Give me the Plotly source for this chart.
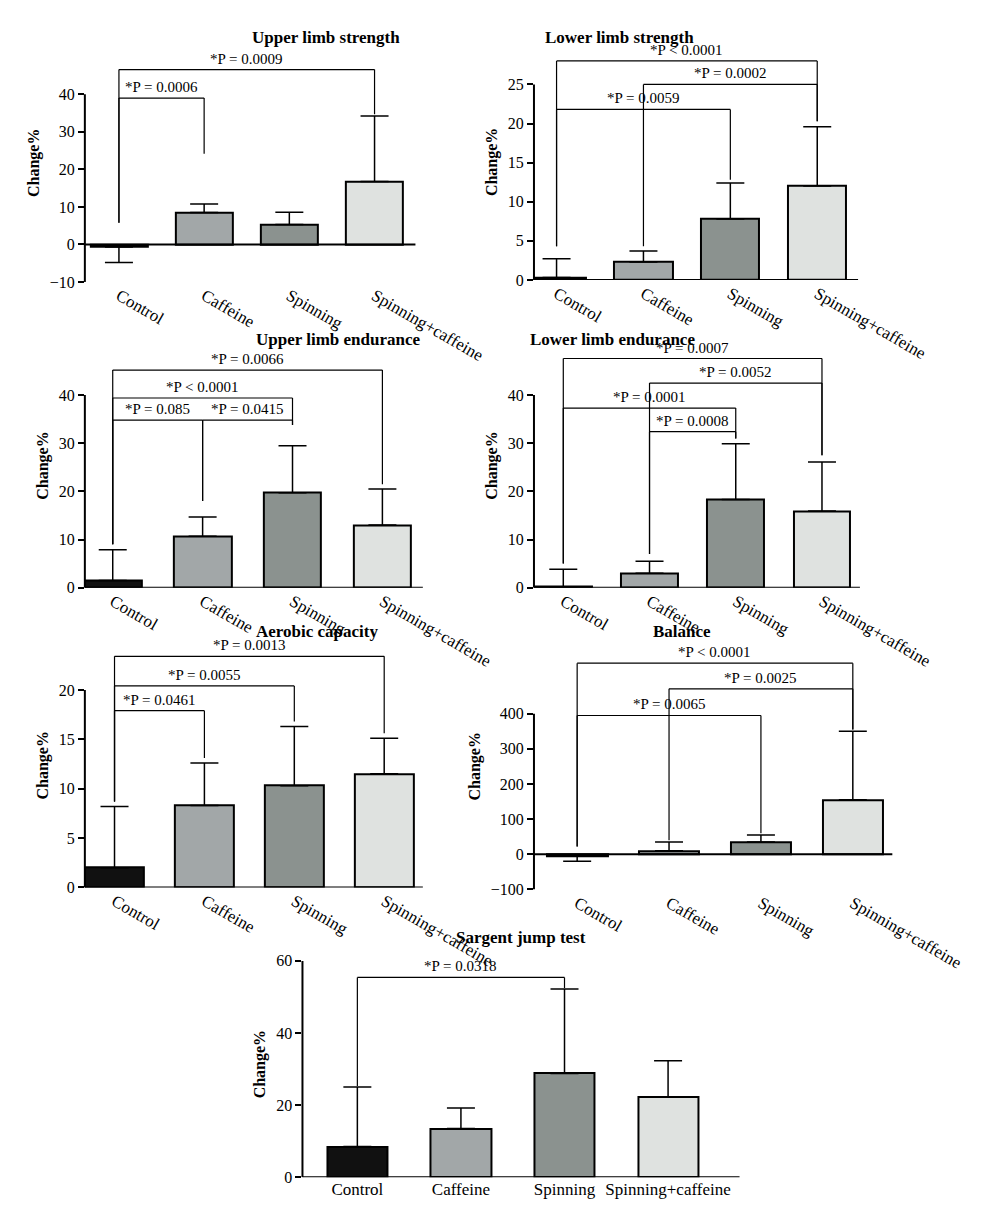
import plotly.graph_objects as go

categories = ["Control", "Caffeine", "Spinning", "Spinning+caffeine"]
colors = ["#111111", "#a2a7a8", "#8b928f", "#dfe2e0"]

titles = ["Upper limb strength", "Lower limb strength", "Upper limb endurance",
          "Lower limb endurance", "Aerobic capacity", "Balance", "Sargent jump test"]

ul_strength = [-0.7, 8.5, 5.3, 16.8]
ul_strength_err = [4.1, 2.3, 3.3, 17.4]
ll_strength = [0.3, 2.3, 7.8, 12.0]
ll_strength_err = [2.4, 1.4, 4.6, 7.6]
ul_endurance = [1.5, 10.7, 19.7, 13.0]
ul_endurance_err = [6.4, 4.0, 9.8, 7.5]
ll_endurance = [0.2, 3.0, 18.3, 15.9]
ll_endurance_err = [3.6, 2.5, 11.6, 10.2]
aerobic = [2.0, 8.3, 10.3, 11.5]
aerobic_err = [6.2, 4.3, 6.0, 3.6]
balance = [-5, 10, 35, 155]
balance_err = [15, 25, 20, 195]
sargent = [8.5, 13.5, 28.8, 22.3]
sargent_err = [16.5, 5.7, 23.4, 10.0]

values = [ul_strength, ll_strength, ul_endurance, ll_endurance, aerobic, balance, sargent]
errors = [ul_strength_err, ll_strength_err, ul_endurance_err, ll_endurance_err,
          aerobic_err, balance_err, sargent_err]

# comparisons: (group i, group j, bracket level, end of left leg, end of right leg, label)
comparisons = [
    [(0, 1, 39.0, 5.8, 24.2, "*P = 0.0006"), (0, 3, 46.6, 5.8, 34.7, "*P = 0.0009")],
    [(0, 3, 28.0, 4.3, 20.3, "*P < 0.0001"), (1, 3, 25.0, 4.3, 20.3, "*P = 0.0002"),
     (0, 2, 21.8, 4.3, 12.8, "*P = 0.0059")],
    [(0, 3, 45.2, 9.0, 21.5, "*P = 0.0066"), (0, 2, 39.4, 9.0, 33.8, "*P < 0.0001"),
     (0, 1, 34.8, 9.0, 18.0, "*P = 0.085"), (1, 2, 34.8, 18.0, 33.8, "*P = 0.0415")],
    [(0, 3, 47.6, 5.0, 27.5, "*P = 0.0007"), (1, 3, 42.5, 7.0, 27.5, "*P = 0.0052"),
     (0, 2, 37.3, 5.0, 31.0, "*P = 0.0001"), (1, 2, 32.4, 7.0, 31.0, "*P = 0.0008")],
    [(0, 3, 23.4, 8.7, 15.6, "*P = 0.0013"), (0, 2, 20.4, 8.7, 16.8, "*P = 0.0055"),
     (0, 1, 17.9, 8.7, 13.1, "*P = 0.0461")],
    [(0, 3, 544, 22, 355, "*P < 0.0001"), (1, 3, 471, 40, 355, "*P = 0.0025"),
     (0, 2, 395, 22, 60, "*P = 0.0065")],
    [(0, 2, 55.4, 25.3, 52.5, "*P = 0.0318")],
]

# layout per panel (pixels): x-axis left/right, xrange, y ticks, pixel of min/max tick, top pixel, title pixel
panels = [
    dict(xl=83, xr=440, xrange=[-0.40, 3.48], bw=0.67, t=(-10, 40, 10), pmin=276, pmax=87, top=36, tp=18),
    dict(xl=568, xr=918, xrange=[-0.26, 3.47], bw=0.67, t=(0, 25, 5), pmin=274, pmax=77, top=36, tp=18),
    dict(xl=83, xr=448, xrange=[-0.31, 3.45], bw=0.64, t=(0, 40, 10), pmin=584, pmax=390, top=338, tp=322),
    dict(xl=568, xr=920, xrange=[-0.34, 3.44], bw=0.66, t=(0, 40, 10), pmin=584, pmax=390, top=338, tp=322),
    dict(xl=83, xr=448, xrange=[-0.33, 3.43], bw=0.66, t=(0, 20, 5), pmin=886, pmax=687, top=640, tp=628),
    dict(xl=568, xr=955, xrange=[-0.47, 3.43], bw=0.66, t=(-100, 400, 100), pmin=888, pmax=711, top=640, tp=628),
    dict(xl=318, xr=790, xrange=[-0.53, 3.69], bw=0.58, t=(0, 60, 20), pmin=1178, pmax=960, top=950, tp=948),
]

W, H = 1000, 1212
FONT = "Liberation Serif"
fig = go.Figure()
shapes, annots = [], []

for k, p in enumerate(panels):
    n = k + 1
    suf = "" if n == 1 else str(n)
    xa, ya = f"x{suf}", f"y{suf}"
    ymin, ymax, dt = p["t"]
    scale = (p["pmin"] - p["pmax"]) / (ymax - ymin)
    rtop = ymin + (p["pmin"] - p["top"]) / scale
    vals, errs = values[k], errors[k]
    fig.add_trace(go.Bar(
        x=list(range(4)), y=vals, width=p["bw"], xaxis=xa, yaxis=ya,
        marker=dict(color=colors, line=dict(color="black", width=2)),
        error_y=dict(type="data", symmetric=False,
                     array=[e if v >= 0 else 0 for v, e in zip(vals, errs)],
                     arrayminus=[0 if v >= 0 else e for v, e in zip(vals, errs)],
                     color="black", thickness=1.5, width=14),
        showlegend=False))
    tickvals = list(range(ymin, ymax + 1, dt))
    fig.layout[f"xaxis{suf}"] = dict(domain=[p["xl"] / W, p["xr"] / W], anchor=ya, range=p["xrange"],
                                     tickvals=list(range(4)), ticktext=categories, showgrid=False,
                                     zeroline=False, showline=False, ticks="",
                                     tickfont=dict(family=FONT, size=17, color="black"))
    fig.layout[f"yaxis{suf}"] = dict(domain=[1 - p["pmin"] / H, 1 - p["top"] / H], anchor=xa,
                                     range=[ymin, rtop], tickvals=tickvals, showgrid=False,
                                     zeroline=False, showline=False, ticks="outside", ticklen=6,
                                     tickwidth=1.5, tickcolor="black",
                                     tickfont=dict(family=FONT, size=16, color="black"),
                                     title=dict(text="<b>Change%</b>", standoff=6,
                                                font=dict(family=FONT, size=16, color="black")))
    shapes.append(dict(type="line", xref=f"{xa} domain", yref=ya, x0=0, x1=0, y0=ymin, y1=ymax,
                       line=dict(color="black", width=2)))
    shapes.append(dict(type="line", xref=f"{xa} domain", yref=ya, x0=0, x1=1, y0=0, y1=0,
                       line=dict(color="black", width=2)))
    annots.append(dict(text=f"<b>{titles[k]}</b>", xref="paper", yref="paper",
                       x=(p["xl"] + p["xr"]) / 2 / W, y=1 - p["tp"] / H, showarrow=False,
                       font=dict(family=FONT, size=17, color="black")))
    for (i, j, lvl, e1, e2, lab) in comparisons[k]:
        for x0, y0, x1, y1 in [(i, e1, i, lvl), (i, lvl, j, lvl), (j, lvl, j, e2)]:
            shapes.append(dict(type="line", xref=xa, yref=ya, x0=x0, y0=y0, x1=x1, y1=y1,
                               line=dict(color="black", width=1.2)))
        annots.append(dict(text=lab, xref=xa, yref=ya, x=(i + j) / 2, y=lvl, yshift=11,
                           showarrow=False, font=dict(family=FONT, size=15, color="black")))

fig.update_layout(width=W, height=H, margin=dict(l=0, r=0, t=0, b=0),
                  plot_bgcolor="white", paper_bgcolor="white",
                  shapes=shapes, annotations=annots, bargap=0)
fig.write_html("out.html")
